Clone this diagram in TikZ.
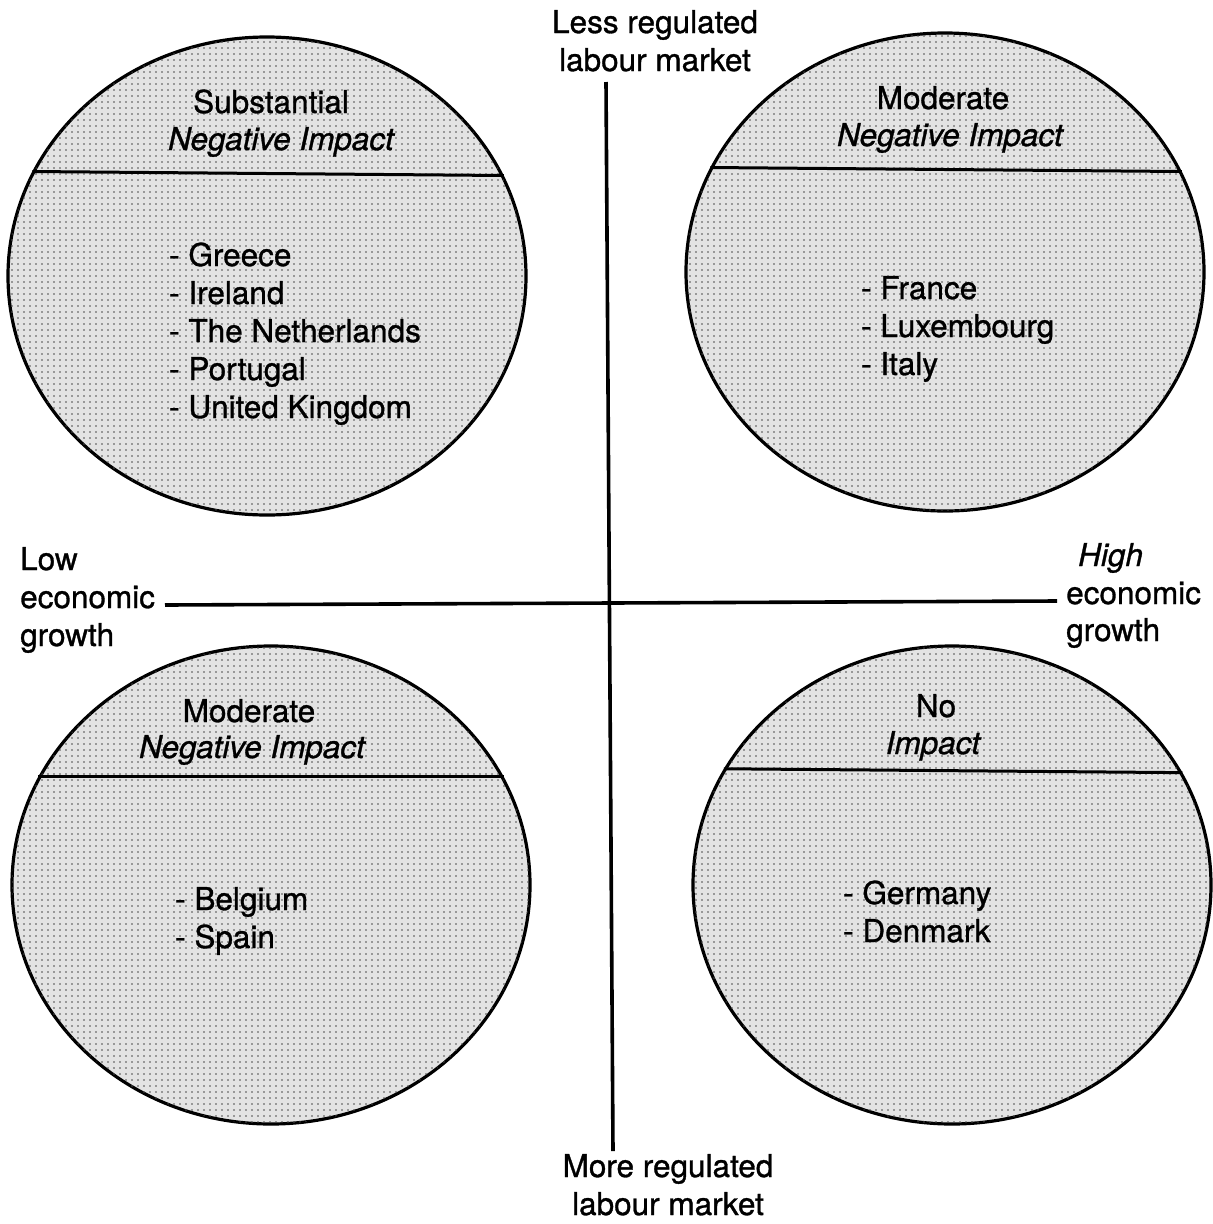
\documentclass[tikz,border=0pt]{standalone}
\usepackage{fontspec}
\setmainfont{TeX Gyre Heros}[UprightFeatures={FakeBold=1.0},ItalicFeatures={FakeBold=1.0}]
\usetikzlibrary{shapes.geometric,patterns.meta}
\begin{document}
\begin{tikzpicture}[x=1pt,y=-1pt,
  bubble/.style={ellipse, draw, line width=3.2pt, fill=black!11,
    minimum width=518pt, minimum height=478pt, inner sep=0pt,
    postaction={pattern={Dots[distance=6pt,radius=0.9pt]}, pattern color=black!70}},
  chord/.style={line width=3pt},
  axis/.style={line width=3.6pt},
  lbl/.style={font=\fontsize{31.5}{38}\selectfont, inner sep=0pt}]
\useasboundingbox[fill=white] (0,0) rectangle (1213,1224);

% axes
\coordinate (vtop) at (606,82);
\coordinate (vbot) at (613,1151);
\coordinate (hl) at (165,605);
\coordinate (hr) at (1057,601);
\draw[axis] (vtop) -- (vbot);
\draw[axis] (hl) -- (hr);

% bubbles
\node[bubble] (tl) at (267,276) {};
\node[bubble] (tr) at (945,272) {};
\node[bubble] (bl) at (271,885) {};
\node[bubble] (br) at (952,885) {};

\draw[chord] (tl.156.7) -- (tl.23.3);
\draw[chord] (tr.156.7) -- (tr.23.3);
\draw[chord] (bl.155.0) -- (bl.25.0);
\draw[chord] (br.153.7) -- (br.26.3);

% top-left texts (base anchor of a multi-line node = last line)
\node[lbl, anchor=base] (tlh1) at (271,113) {Substantial};
\node[lbl, anchor=base] (tlh2) at (281,150) {\itshape Negative Impact};
\node[lbl, anchor=base west, align=left] (tll) at (169,418)
  {- Greece\\- Ireland\\- The Netherlands\\- Portugal\\- United Kingdom};

% top-right texts
\node[lbl, anchor=base] (trh1) at (943,109) {Moderate};
\node[lbl, anchor=base] (trh2) at (950,146) {\itshape Negative Impact};
\node[lbl, anchor=base west, align=left] (trl) at (861,375)
  {- France\\- Luxembourg\\- Italy};

% bottom-left texts
\node[lbl, anchor=base] (blh1) at (249,722) {Moderate};
\node[lbl, anchor=base] (blh2) at (252,758) {\itshape Negative Impact};
\node[lbl, anchor=base west, align=left] (bll) at (175,948)
  {- Belgium\\- Spain};

% bottom-right texts
\node[lbl, anchor=base] (brh1) at (936,717) {No};
\node[lbl, anchor=base] (brh2) at (933,754) {\itshape Impact};
\node[lbl, anchor=base west, align=left] (brl) at (843,942)
  {- Germany\\- Denmark};

% axis labels
\node[lbl, anchor=base, align=center] (lessreg) at (655,71) {Less regulated\\labour market};
\node[lbl, anchor=base, align=center] (morereg) at (668,1215) {More regulated\\labour market};
\node[lbl, anchor=base west, align=left] (low) at (20,646) {Low\\economic\\growth};
\node[lbl, anchor=base west] (high1) at (1078,566) {\itshape High};
\node[lbl, anchor=base west] (high2) at (1066,604) {economic};
\node[lbl, anchor=base west] (high3) at (1066,641) {growth};
\end{tikzpicture}
\end{document}
